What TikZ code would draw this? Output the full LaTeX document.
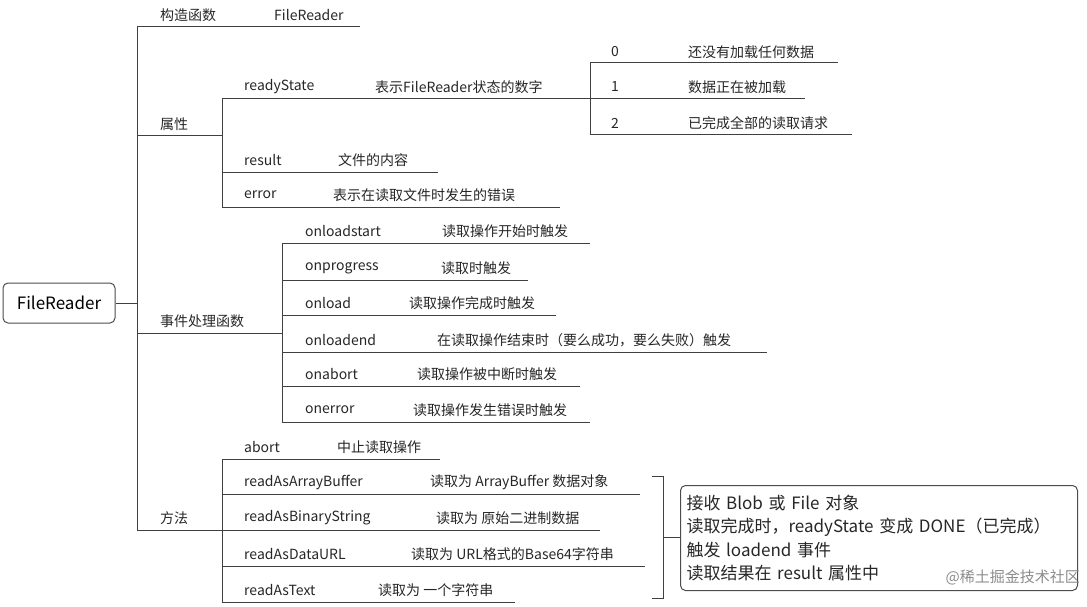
\documentclass[tikz,border=0pt]{standalone}
\usepackage{fontspec}
\setmainfont{Noto Sans CJK SC}
\usepackage{tikz}
\begin{document}
\begin{tikzpicture}[x=1pt,y=-1pt,
  lbl/.style={anchor=west,inner sep=0pt,font=\fontsize{14}{16}\selectfont,text=black!85},
  ln/.style={draw=black!75,line width=1pt}]
  \useasboundingbox (0,0) rectangle (1087,607);
  % root
  \node[draw=black!70,line width=1pt,rounded corners=5pt,minimum width=112pt,minimum height=40pt,font=\fontsize{17}{19}\selectfont] (root) at (59,303) {FileReader};
  \draw[ln] (root.east) -- (137,303);
  \draw[ln] (137,27) -- (137,530);
  % level 1
  \node[lbl] (ctor) at (160,15) {构造函数};
  \node[lbl] (ctorv) at (274,15) {FileReader};
  \draw[ln] (137,27) -- (360,27);
  \node[lbl] (attr) at (160,124) {属性};
  \draw[ln] (137,136) -- (222,136);
  \node[lbl] (evt) at (160,321) {事件处理函数};
  \draw[ln] (137,333) -- (282,333);
  \node[lbl] (meth) at (160,518) {方法};
  \draw[ln] (137,530) -- (222,530);
  % attributes
  \draw[ln] (222,99) -- (222,207);
  \node[lbl] (rs) at (244,87) {readyState};
  \node[lbl] at (375,87) {表示FileReader状态的数字};
  \draw[ln] (222,99) -- (590,99);
  \draw[ln] (590,63) -- (590,135);
  \node[lbl] at (611,52) {0};
  \node[lbl] at (688,52) {还没有加载任何数据};
  \draw[ln] (590,63) -- (838,63);
  \node[lbl] at (611,87) {1};
  \node[lbl] at (688,87) {数据正在被加载};
  \draw[ln] (590,99) -- (805,99);
  \node[lbl] at (611,123) {2};
  \node[lbl] at (688,123) {已完成全部的读取请求};
  \draw[ln] (590,135) -- (852,135);
  \node[lbl] at (244,160) {result};
  \node[lbl] at (338,160) {文件的内容};
  \draw[ln] (222,172) -- (438,172);
  \node[lbl] at (244,195) {error};
  \node[lbl] at (333,195) {表示在读取文件时发生的错误};
  \draw[ln] (222,207) -- (560,207);
  % events
  \draw[ln] (282,243) -- (282,422);
  \foreach \n/\t/\x/\y/\e in {onloadstart/读取操作开始时触发/442/231/590,
      onprogress/读取时触发/441/268/528,
      onload/读取操作完成时触发/409/303/556,
      onloadend/在读取操作结束时（要么成功，要么失败）触发/437/340/767,
      onabort/读取操作被中断时触发/417/374/580,
      onerror/读取操作发生错误时触发/413/410/590}{
    \node[lbl] at (305,\y) {\n};
    \node[lbl] at (\x,\y) {\t};
    \draw[ln] (282,\y+12) -- (\e,\y+12);
  }
  % methods
  \draw[ln] (222,459) -- (222,602);
  \foreach \n/\t/\x/\y/\e in {abort/中止读取操作/337/447/440,
      readAsArrayBuffer/读取为 ArrayBuffer 数据对象/430/482/640,
      readAsBinaryString/读取为 原始二进制数据/436/518/600,
      readAsDataURL/读取为 URL格式的Base64字符串/411/554/645,
      readAsText/读取为 一个字符串/378/590/515}{
    \node[lbl] at (244,\y) {\n};
    \node[lbl] at (\x,\y) {\t};
    \draw[ln] (222,\y+12) -- (\e,\y+12);
  }
  % bracket and note
  \draw[ln] (652,476) -- (663,476) -- (663,598) -- (652,598);
  \draw[ln] (663,537) -- (680,537);
  \node[draw=black!70,line width=1pt,rounded corners=5pt,anchor=north west,text width=385pt,minimum height=105pt,align=left,font=\fontsize{17}{23.5}\selectfont,text=black!85,inner xsep=6pt,inner ysep=7pt] (note) at (680,485)
    {接收 Blob 或 File 对象\\读取完成时，readyState 变成 DONE（已完成）\\触发 loadend 事件\\读取结果在 result 属性中};
  \node[anchor=east,inner sep=0pt,font=\fontsize{15}{17}\selectfont,text=black!45] (wm) at (1080,577) {@稀土掘金技术社区};
\end{tikzpicture}
\end{document}
